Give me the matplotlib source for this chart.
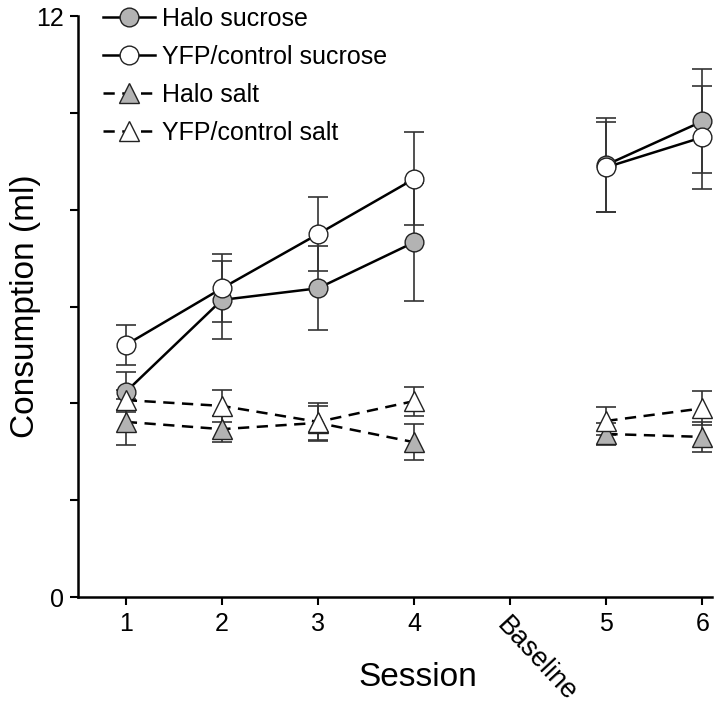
import numpy as np
import matplotlib
matplotlib.use("Agg")
import matplotlib.pyplot as plt

plt.rcParams['font.family'] = ['Liberation Sans', 'DejaVu Sans']

tick_labels = ['1', '2', '3', '4', 'Baseline', '5', '6']
nan = np.nan
halo_sucrose = [4.24, 6.14, 6.38, 7.33, nan, 8.93, 9.83]
halo_sucrose_err = [0.41, 0.80, 0.87, 1.22, nan, 0.97, 1.07]
yfp_sucrose = [5.21, 6.38, 7.50, 8.64, nan, 8.88, 9.50]
yfp_sucrose_err = [0.42, 0.70, 0.76, 0.96, nan, 0.93, 1.06]
halo_salt = [3.62, 3.47, 3.60, 3.20, nan, 3.37, 3.31]
halo_salt_err = [0.48, 0.27, 0.35, 0.37, nan, 0.23, 0.31]
yfp_salt = [4.07, 3.95, 3.62, 4.05, nan, 3.64, 3.90]
yfp_salt_err = [0.20, 0.33, 0.40, 0.30, nan, 0.29, 0.35]

x = np.arange(1, len(tick_labels) + 1)
gray = '#b3b3b3'

fig = plt.figure(figsize=(7.2, 7.05), dpi=100)
ax = fig.add_axes([0.108, 0.153, 0.881, 0.824])

series = [
    (halo_sucrose, halo_sucrose_err, 'o', gray, '-', 13.5, 'Halo sucrose'),
    (yfp_sucrose, yfp_sucrose_err, 'o', 'white', '-', 13.5, 'YFP/control sucrose'),
    (halo_salt, halo_salt_err, '^', gray, (0, (4.5, 3)), 14, 'Halo salt'),
    (yfp_salt, yfp_salt_err, '^', 'white', (0, (4.5, 3)), 14, 'YFP/control salt'),
]

handles = []
for i, (y, e, m, fc, ls, ms, lab) in enumerate(series):
    ax.errorbar(x, y, yerr=e, fmt='none', ecolor='#333333', elinewidth=1.2,
                capsize=7.5, capthick=1.2, zorder=2)
    h, = ax.plot(x, y, linestyle=ls, color='black', lw=1.8, marker=m,
                 markersize=ms, markerfacecolor=fc, markeredgecolor='#222222',
                 markeredgewidth=1.0, zorder=3 + i * 0.1, label=lab)
    handles.append(h)

ax.set_xlim(0.5, 7.1)
ax.set_ylim(0, 12)
ax.set_yticks([0, 12])
ax.set_yticks([2, 4, 6, 8, 10], minor=True)
ax.set_xticks(x)
ax.set_xticklabels(tick_labels)
for sp in ['top', 'right']:
    ax.spines[sp].set_visible(False)
for sp in ['left', 'bottom']:
    ax.spines[sp].set_linewidth(1.8)
ax.tick_params(axis='both', which='major', labelsize=18, width=1.5, length=6)
ax.tick_params(axis='y', which='minor', width=1.5, length=6)
ax.tick_params(axis='x', pad=5)
ax.tick_params(axis='y', pad=4)

for lbl in ax.get_xticklabels():
    if lbl.get_text() == 'Baseline':
        lbl.set_rotation(-47)
        lbl.set_fontsize(19.5)
        lbl.set_ha('left')
        lbl.set_va('top')
        lbl.set_rotation_mode('anchor')

ax.set_xlabel('Session', fontsize=24)
ax.xaxis.set_label_coords(0.536, -0.112)
ax.set_ylabel('Consumption (ml)', fontsize=24)
ax.yaxis.set_label_coords(-0.058, 0.5)

leg = ax.legend(handles=handles, loc='upper left', bbox_to_anchor=(0.024, 1.033),
                frameon=False, fontsize=18, handlelength=2.1, handletextpad=0.25,
                labelspacing=0.56, borderaxespad=0)

fig.savefig('out.png', dpi=100)
